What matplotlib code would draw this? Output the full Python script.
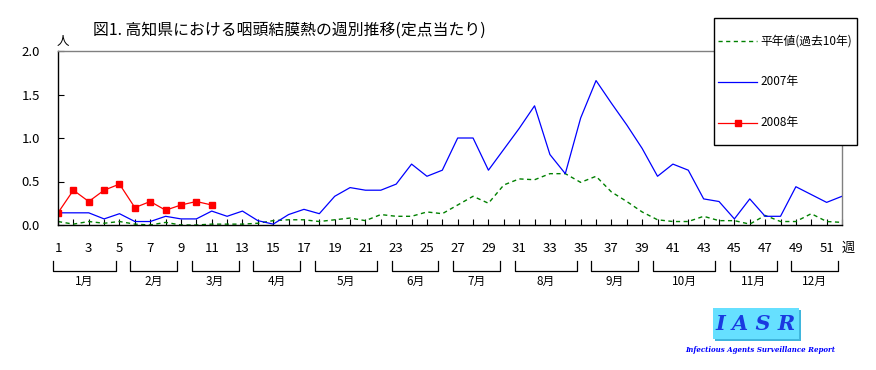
import matplotlib
matplotlib.use("Agg")
import matplotlib.pyplot as plt
import matplotlib.transforms as mtrans
from matplotlib.lines import Line2D
from matplotlib.patches import Rectangle
import numpy as np

plt.rcParams["font.family"] = ["Noto Sans CJK JP", "DejaVu Sans"]

W, H = 876, 370

weeks = np.arange(1, 53)
heinen = [0.04, 0.01, 0.04, 0.02, 0.04, 0.01, 0.00, 0.03, 0.00, 0.00,
          0.01, 0.01, 0.01, 0.02, 0.05, 0.06, 0.06, 0.04, 0.06, 0.08,
          0.05, 0.12, 0.10, 0.10, 0.15, 0.13, 0.23, 0.33, 0.25, 0.46,
          0.53, 0.52, 0.59, 0.59, 0.49, 0.56, 0.38, 0.27, 0.15, 0.06,
          0.04, 0.04, 0.10, 0.05, 0.05, 0.01, 0.11, 0.04, 0.04, 0.13,
          0.04, 0.03]
y2007 = [0.14, 0.14, 0.14, 0.07, 0.13, 0.04, 0.04, 0.10, 0.07, 0.07,
         0.16, 0.10, 0.16, 0.05, 0.01, 0.12, 0.18, 0.13, 0.33, 0.43,
         0.40, 0.40, 0.47, 0.70, 0.56, 0.63, 1.00, 1.00, 0.63, 0.87,
         1.11, 1.37, 0.81, 0.59, 1.23, 1.66, 1.40, 1.15, 0.88, 0.56,
         0.70, 0.63, 0.30, 0.27, 0.07, 0.30, 0.10, 0.10, 0.44, 0.35,
         0.26, 0.33]
weeks2008 = np.arange(1, 12)
y2008 = [0.14, 0.40, 0.27, 0.40, 0.47, 0.20, 0.27, 0.17, 0.23, 0.27, 0.23]

labels = ["平年値(過去10年)", "2007年", "2008年"]
months = ["1月", "2月", "3月", "4月", "5月", "6月",
          "7月", "8月", "9月", "10月", "11月", "12月"]
month_first = [1, 6, 10, 14, 18, 23, 27, 31, 36, 40, 45, 49]
month_last = [5, 9, 13, 17, 22, 26, 30, 35, 39, 44, 48, 52]

fig = plt.figure(figsize=(W / 100, H / 100), dpi=100)
fig.patch.set_facecolor("white")
ax = fig.add_axes([58 / W, 1 - 225 / H, 784 / W, 174 / H])

styles = [dict(color="#008000", lw=1.0, ls=(0, (3, 2.5))),
          dict(color="#0000ff", lw=0.9),
          dict(color="#ff0000", lw=0.9, marker="s", ms=4.5,
               mec="#ff0000", mfc="#ff0000")]
ax.plot(weeks, heinen, **styles[0])
ax.plot(weeks, y2007, **styles[1])
ax.plot(weeks2008, y2008, **styles[2])

ax.set_xlim(1, 52)
ax.set_ylim(0, 2.0)
ax.set_yticks([0, 0.5, 1.0, 1.5, 2.0])
ax.set_yticklabels([f"{v:.1f}" for v in [0, 0.5, 1.0, 1.5, 2.0]])
ax.set_xticks(weeks)
ax.set_xticklabels([str(w) if w % 2 else "" for w in weeks])
ax.tick_params(axis="y", direction="in", length=4, width=0.8, pad=13, labelsize=9.5)
ax.tick_params(axis="x", direction="in", length=4, width=0.8, pad=12, labelsize=9.5)
for s in ["left", "bottom"]:
    ax.spines[s].set_color("black")
    ax.spines[s].set_linewidth(1.0)
for s in ["top", "right"]:
    ax.spines[s].set_color("#808080")
    ax.spines[s].set_linewidth(1.0)

# title and unit labels
fig.text(93 / W, 1 - 30 / H, "図1. 高知県における咽頭結膜熱の週別推移(定点当たり)",
         fontsize=11.4, ha="left", va="center")
fig.text(63 / W, 1 - 42 / H, "人", fontsize=9, ha="center", va="center")
fig.text(848 / W, 1 - 248 / H, "週", fontsize=9.5, ha="center", va="center")

# month brackets under the week axis
tr = mtrans.blended_transform_factory(ax.transData, fig.transFigure)
y_top, y_bot, y_lab = 1 - 261 / H, 1 - 271 / H, 1 - 281 / H
for name, a, b in zip(months, month_first, month_last):
    x0, x1 = a - 0.3, b - 0.25
    fig.add_artist(Line2D([x0, x0, x1, x1], [y_top, y_bot, y_bot, y_top],
                          transform=tr, color="black", lw=0.9))
    fig.text((x0 + x1) / 2, y_lab, name, transform=tr, fontsize=8.5,
             ha="center", va="center")

# legend box (drawn by hand to get the wide vertical spacing of the original)
fig.add_artist(Rectangle((714 / W, 1 - 145 / H), 143 / W, 127 / H,
                         transform=fig.transFigure, facecolor="white",
                         edgecolor="black", lw=1.0, zorder=5))
for i, (lab, st) in enumerate(zip(labels, styles)):
    yy = 1 - (41 + 41 * i) / H
    kw = {k: v for k, v in st.items() if k not in ("marker", "ms", "mec", "mfc")}
    fig.add_artist(Line2D([718 / W, 757 / W], [yy, yy], transform=fig.transFigure,
                          zorder=6, **kw))
    if "marker" in st:
        fig.add_artist(Line2D([737.5 / W], [yy], transform=fig.transFigure,
                              zorder=7, ls="none", marker=st["marker"], ms=st["ms"],
                              mec=st["mec"], mfc=st["mfc"]))
    fig.text(760 / W, yy, lab, fontsize=8.5, ha="left", va="center", zorder=7)

# IASR logo
fig.add_artist(Rectangle((715 / W, 1 - 341 / H), 86 / W, 31 / H,
                         transform=fig.transFigure, facecolor="#3fb6dd",
                         edgecolor="none"))
fig.add_artist(Rectangle((713 / W, 1 - 339 / H), 86 / W, 31 / H,
                         transform=fig.transFigure, facecolor="#66e0ff",
                         edgecolor="none"))
fig.text(756 / W, 1 - 324 / H, "I A S R", fontsize=15, family="DejaVu Serif",
         style="italic", weight="bold", color="#1a3ae0", ha="center", va="center")
fig.text(760 / W, 1 - 350 / H, "Infectious Agents Surveillance Report",
         fontsize=5, family="DejaVu Serif", style="italic", weight="bold",
         color="#0000ff", ha="center", va="center")

fig.savefig("out.png", dpi=100, facecolor="white")
